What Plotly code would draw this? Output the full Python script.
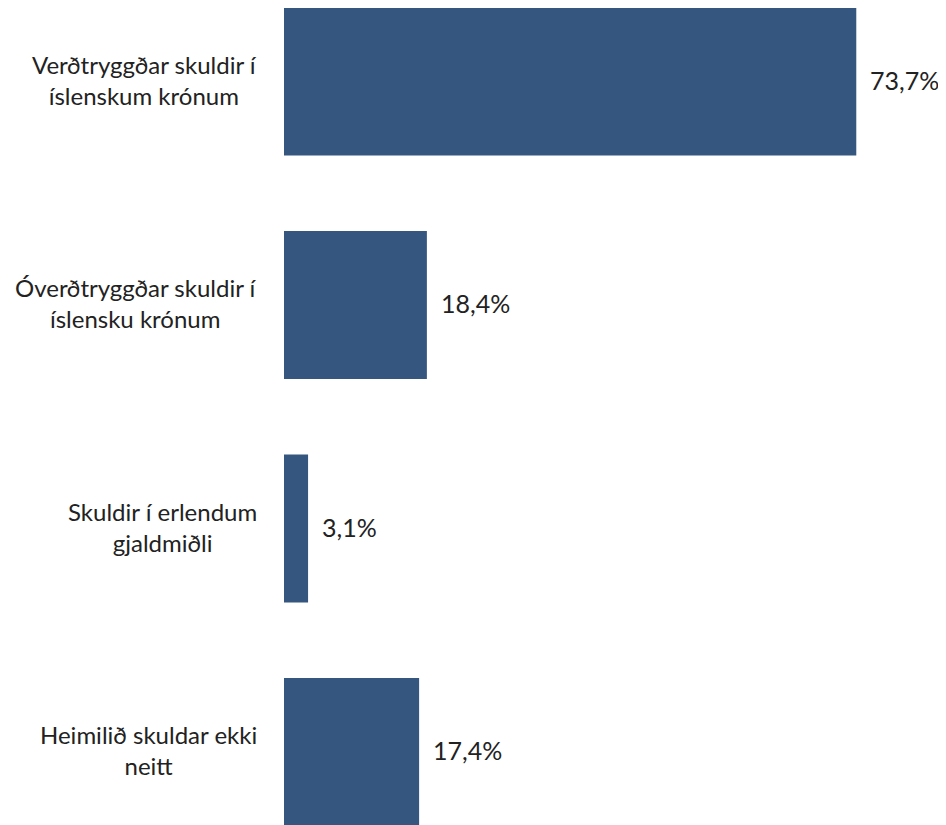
import plotly.graph_objects as go

categories = [
    "Verðtryggðar skuldir í<br>íslenskum krónum",
    "Óverðtryggðar skuldir í<br>íslensku krónum",
    "Skuldir í erlendum<br>gjaldmiðli",
    "Heimilið skuldar ekki<br>neitt",
]
values = [73.7, 18.4, 3.1, 17.4]
value_labels = ["73,7%", "18,4%", "3,1%", "17,4%"]

BAR_COLOR = "#34567f"
TEXT_COLOR = "#222222"
FONT = "Lato, 'Open Sans', sans-serif"

W, H = 946, 825
OFFSET = 8          # page body margin
LEFT = 284 - OFFSET
PX_PER_PCT = 7.765
PX_PER_CAT = 223.5
FIRST_CENTER = 81.5 - OFFSET
LAST_CENTER = 752 - OFFSET

fig = go.Figure(
    go.Bar(
        x=values,
        y=list(range(len(categories))),
        orientation="h",
        width=148 / PX_PER_CAT,
        marker=dict(color=BAR_COLOR, line=dict(width=0)),
        hoverinfo="skip",
    )
)

# category labels: centred lines, block right-aligned next to the axis
for i, cat in enumerate(categories):
    fig.add_annotation(
        x=0, y=i, xref="x", yref="y",
        text=cat, showarrow=False,
        xanchor="right", align="center",
        xshift=-25, yshift=2,
        font=dict(size=24, color=TEXT_COLOR, family=FONT),
    )

# value labels outside bar ends
for i, (v, lab) in enumerate(zip(values, value_labels)):
    fig.add_annotation(
        x=v, y=i, xref="x", yref="y",
        text=lab, showarrow=False,
        xanchor="left", xshift=12, yshift=2,
        font=dict(size=25, color=TEXT_COLOR, family=FONT),
    )

fig.update_layout(
    width=W, height=H,
    margin=dict(l=LEFT, r=0, t=0, b=0),
    paper_bgcolor="white",
    plot_bgcolor="white",
    showlegend=False,
    xaxis=dict(range=[0, (W - LEFT) / PX_PER_PCT], visible=False, fixedrange=True),
    yaxis=dict(
        range=[3 + (H - LAST_CENTER) / PX_PER_CAT, -FIRST_CENTER / PX_PER_CAT],
        visible=False, fixedrange=True,
    ),
)

fig.write_html("out.html")
